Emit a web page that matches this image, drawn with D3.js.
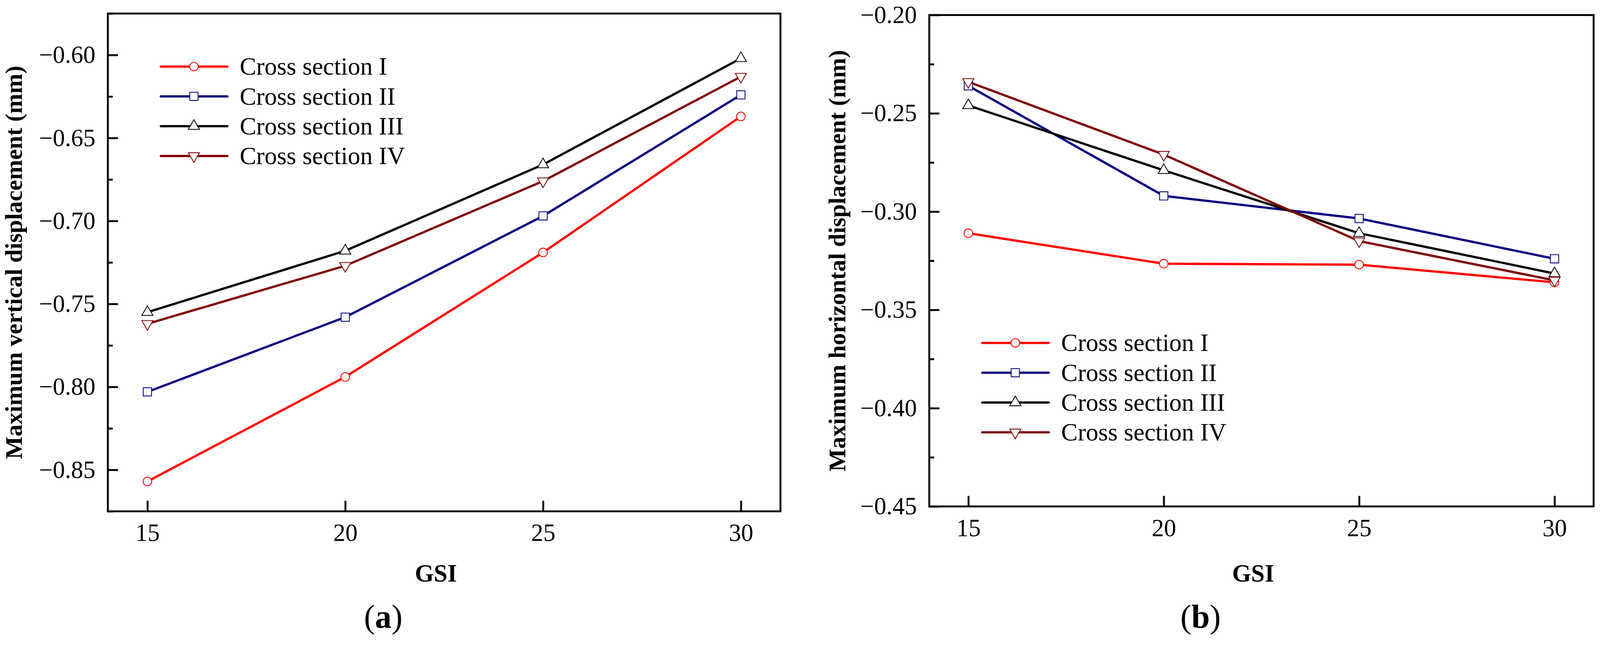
<!DOCTYPE html>
<html>
<head>
<meta charset="utf-8">
<script src="https://cdn.jsdelivr.net/npm/d3@7"></script>
<style>
  html, body { margin: 0; padding: 0; background: #fff; overflow: hidden; }
  svg { display: block; width: 100vw; height: 100vh; font-family: "Liberation Serif", "Times New Roman", serif; }
</style>
</head>
<body>
<svg id="chart" viewBox="0 0 4258 1704" preserveAspectRatio="xMinYMin meet"></svg>
<script>

// GSI values on the x axis
const gsi = [15, 20, 25, 30]
const xTicks = [15, 20, 25, 30]

const seriesNames = ['Cross section I', 'Cross section II', 'Cross section III', 'Cross section IV']
const seriesColors = ['#ff0000', '#000080', '#000000', '#800000']
const seriesSymbols = ['circle', 'square', 'triangle', 'triangleDown']

// (a) maximum vertical displacement (mm)
const verticalI   = [-0.857, -0.794, -0.719, -0.637]
const verticalII  = [-0.803, -0.758, -0.697, -0.624]
const verticalIII = [-0.755, -0.718, -0.666, -0.602]
const verticalIV  = [-0.762, -0.727, -0.676, -0.613]
const verticalTicks = [-0.85, -0.80, -0.75, -0.70, -0.65, -0.60]
const verticalMinor = [-0.875, -0.825, -0.775, -0.725, -0.675, -0.625, -0.575]

// (b) maximum horizontal displacement (mm)
const horizontalI   = [-0.311, -0.3265, -0.327, -0.336]
const horizontalII  = [-0.236, -0.292, -0.3035, -0.324]
const horizontalIII = [-0.246, -0.279, -0.311, -0.3315]
const horizontalIV  = [-0.234, -0.271, -0.315, -0.335]
const horizontalTicks = [-0.45, -0.40, -0.35, -0.30, -0.25, -0.20]
const horizontalMinor = [-0.425, -0.375, -0.325, -0.275, -0.225]

const svg = d3.select('#chart')

function symbolPath (name) {
    if (name === 'circle') return d3.symbol(d3.symbolCircle, 415)()
    if (name === 'square') return d3.symbol(d3.symbolSquare, 484)()
    return d3.symbol(d3.symbolTriangle, 380)()
}

function drawPanel (opts) {

    const { left, right, top, bottom } = opts
    const g = svg.append('g')

    const x = d3.scaleLinear().domain([14, 31]).range([left, right])
    const y = d3.scaleLinear().domain(opts.yDomain).range([bottom, top])

    // minor y ticks
    g.append('g')
        .attr('transform', `translate(${left},0)`)
        .call(d3.axisLeft(y).tickValues(opts.minor).tickSize(-13).tickFormat(''))
        .call(s => s.select('.domain').remove())

    // major y ticks
    g.append('g')
        .attr('transform', `translate(${left},0)`)
        .call(d3.axisLeft(y).tickValues(opts.ticks).tickSize(-27).tickPadding(33).tickFormat(d3.format('.2f')))
        .call(s => s.select('.domain').remove())

    g.append('g')
        .attr('transform', `translate(0,${bottom})`)
        .call(d3.axisBottom(x).tickValues(xTicks).tickSize(-28).tickPadding(33))
        .call(s => s.select('.domain').remove())

    g.selectAll('.tick line').attr('stroke', '#000').attr('stroke-width', 5)
    g.selectAll('.tick text').attr('font-size', 65).attr('fill', '#000')
        .attr('font-family', '"Liberation Serif", "Times New Roman", serif')

    // frame
    g.append('rect')
        .attr('x', left).attr('y', top)
        .attr('width', right - left).attr('height', bottom - top)
        .attr('fill', 'none').attr('stroke', '#000').attr('stroke-width', 5)

    const line = d3.line().x((d, i) => x(gsi[i])).y(d => y(d))

    opts.series.forEach((vals, k) => {
        g.append('path')
            .attr('d', line(vals))
            .attr('fill', 'none')
            .attr('stroke', seriesColors[k])
            .attr('stroke-width', 6)
            .attr('stroke-linejoin', 'round')
    })

    opts.series.forEach((vals, k) => {
        g.selectAll(null).data(vals).enter()
            .append('path')
            .attr('d', symbolPath(seriesSymbols[k]))
            .attr('transform', (d, i) => `translate(${x(gsi[i])},${y(d)})` + (seriesSymbols[k] === 'triangleDown' ? ' rotate(180)' : ''))
            .attr('fill', '#fff')
            .attr('stroke', seriesColors[k])
            .attr('stroke-width', 2.2)
    })

    // legend
    const lg = g.append('g')
    seriesNames.forEach((name, k) => {
        const ly = opts.legendY + k * 79.3
        const lx = left + 141
        lg.append('line')
            .attr('x1', lx).attr('x2', lx + 177)
            .attr('y1', ly).attr('y2', ly)
            .attr('stroke', seriesColors[k]).attr('stroke-width', 6)
            .attr('stroke-linecap', 'round')
        lg.append('path')
            .attr('d', symbolPath(seriesSymbols[k]))
            .attr('transform', `translate(${lx + 88},${ly})` + (seriesSymbols[k] === 'triangleDown' ? ' rotate(180)' : ''))
            .attr('fill', '#fff').attr('stroke', seriesColors[k]).attr('stroke-width', 2.2)
        lg.append('text')
            .attr('x', lx + 210).attr('y', ly).attr('dy', '0.33em')
            .attr('font-size', 66)
            .text(name)
    })

    // axis titles
    g.append('text')
        .attr('transform', `translate(${opts.yTitleX},${(top + bottom) / 2}) rotate(-90)`)
        .attr('text-anchor', 'middle')
        .attr('font-size', 64).attr('font-weight', 'bold')
        .text(opts.yTitle)

    const cx = (left + right) / 2
    g.append('text')
        .attr('x', cx - 22).attr('y', 1547)
        .attr('text-anchor', 'middle')
        .attr('font-size', 65).attr('font-weight', 'bold')
        .text('GSI')

    const cap = g.append('text')
        .attr('x', cx - 162).attr('y', 1670)
        .attr('text-anchor', 'middle')
        .attr('font-size', 88)
    cap.append('tspan').text('(')
    cap.append('tspan').attr('font-weight', 'bold').text(opts.tag)
    cap.append('tspan').text(')')
}

drawPanel({
    left: 287, right: 2077, top: 36, bottom: 1360,
    yDomain: [-0.875, -0.575],
    ticks: verticalTicks, minor: verticalMinor,
    series: [verticalI, verticalII, verticalIII, verticalIV],
    legendY: 177,
    yTitle: 'Maximum vertical displacement (mm)', yTitleX: 58,
    tag: 'a'
})

drawPanel({
    left: 2473, right: 4241, top: 40, bottom: 1347,
    yDomain: [-0.45, -0.20],
    ticks: horizontalTicks, minor: horizontalMinor,
    series: [horizontalI, horizontalII, horizontalIII, horizontalIV],
    legendY: 912,
    yTitle: 'Maximum horizontal displacement (mm)', yTitleX: 2250,
    tag: 'b'
})

</script>
</body>
</html>
